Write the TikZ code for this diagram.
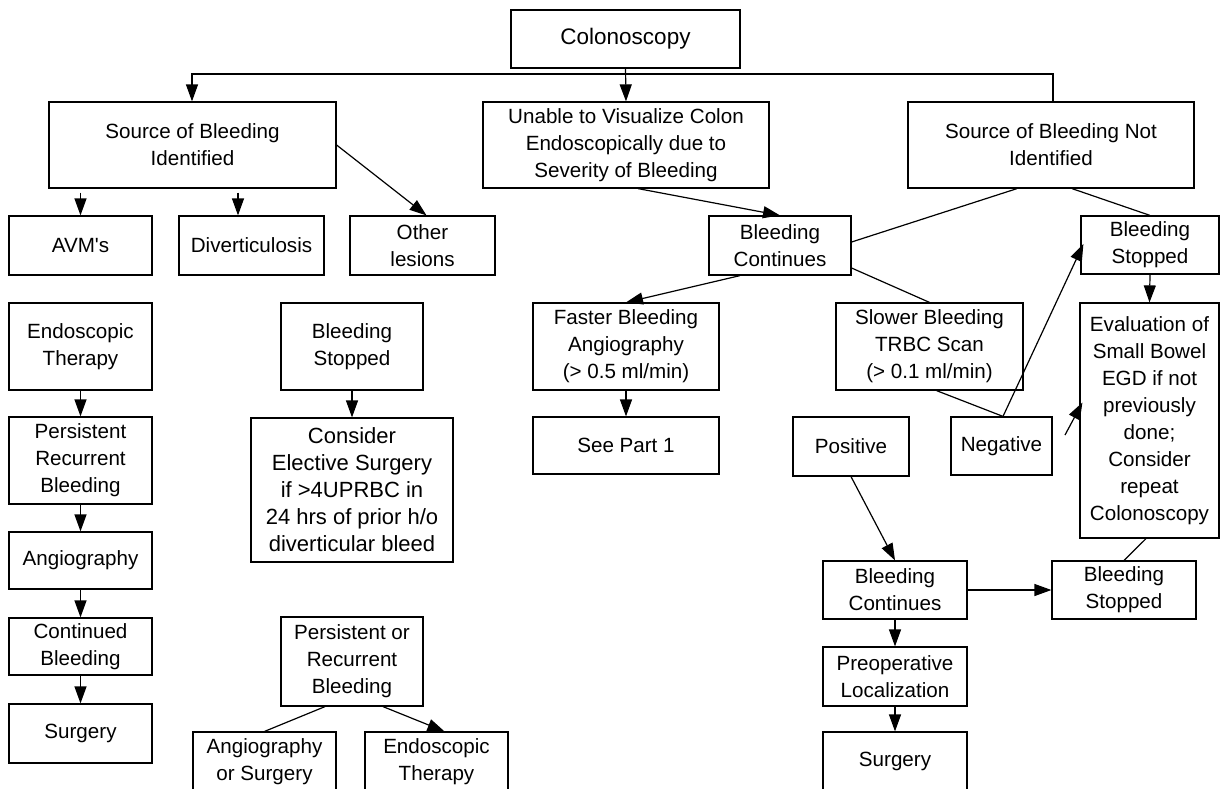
\documentclass[tikz,border=0pt]{standalone}
\usepackage{fontspec}
\setmainfont{Liberation Sans}[Ligatures=TeXOff]
\usetikzlibrary{arrows.meta}
\newcommand{\fsn}{\fontsize{20.6}{27}\selectfont}
\newcommand{\fsb}{\fontsize{22.5}{27}\selectfont}
\tikzset{
  box/.style={draw, line width=1.2pt, inner sep=0pt, align=center, font=\fsn},
  wh/.style 2 args={minimum width=#1, minimum height=#2},
  conn/.style={line width=1.2pt},
  arr/.style={line width=1.2pt, -{Triangle[length=17pt,width=12pt]}}
}
\begin{document}
\begin{tikzpicture}[x=1pt,y=-1pt]
\useasboundingbox (0,0) rectangle (1220,788);
\clip (0,0) rectangle (1220,788);
\fill[white] (0,0) rectangle (1220,788);

% top level
\node[box, wh={229}{58}, font=\fsb] (colon) at (625.5,39) {Colonoscopy};
\node[box, wh={287}{86}] (sid) at (192.5,145) {Source of Bleeding\\Identified};
\node[box, wh={286}{86}] (unable) at (626,145) {Unable to Visualize Colon\\Endoscopically due to\\Severity of Bleeding};
\node[box, wh={286}{86}] (snid) at (1051,145) {Source of Bleeding Not\\Identified};

% second row
\node[box, wh={143}{59}] (avm) at (80.5,245.5) {AVM's};
\node[box, wh={145}{59}] (div) at (251.5,245.5) {\raisebox{-3pt}{Diverticulosis}};
\node[box, wh={145}{59}] (other) at (422.5,245.5) {Other\\lesions};
\node[box, wh={142}{59}] (bc) at (780,245.5) {Bleeding\\Continues};
\node[box, wh={138}{58}] (bs) at (1150,245) {Bleeding\\Stopped};

% left column
\node[box, wh={143}{87}] (ent) at (80.5,346.5) {Endoscopic\\Therapy};
\node[box, wh={143}{87}] (prb) at (80.5,460.5) {Persistent\\Recurrent\\Bleeding};
\node[box, wh={143}{57}] (angio) at (80.5,560.5) {Angiography};
\node[box, wh={143}{57}] (contb) at (80.5,646.5) {Continued\\Bleeding};
\node[box, wh={143}{59}] (surgL) at (80.5,733.5) {Surgery};

% diverticulosis column
\node[box, wh={142}{87}] (bsL) at (352,346.5) {Bleeding\\Stopped};
\node[box, wh={202}{144}, font=\fontsize{22}{27}\selectfont] (consider) at (352,490) {Consider\\Elective Surgery\\if >4UPRBC in\\24 hrs of prior h/o\\diverticular bleed};
\node[box, wh={142}{89}] (porb) at (352,661.5) {Persistent or\\Recurrent\\Bleeding};
\node[box, wh={143}{59}] (aos) at (264.5,761.5) {Angiography\\or Surgery};
\node[box, wh={143}{59}] (etB) at (436.5,761.5) {Endoscopic\\Therapy};

% middle
\node[box, wh={186}{87}] (faster) at (626,346.5) {Faster Bleeding\\Angiography\\(> 0.5 ml/min)};
\node[box, wh={186}{57}] (part1) at (626,445.5) {See Part 1};
\node[box, wh={187}{87}] (slower) at (929.5,346.5) {Slower Bleeding\\TRBC Scan\\(> 0.1 ml/min)};

% right
\node[box, wh={139}{235}] (eval) at (1149.5,420.5) {Evaluation of\\Small Bowel\\EGD if not\\previously\\done;\\Consider\\repeat\\Colonoscopy};
\node[box, wh={116}{59}] (pos) at (851,446.5) {Positive};
\node[box, wh={101}{58}] (neg) at (1001.5,446) {Negative};
\node[box, wh={144}{58}] (bc2) at (895,590) {Bleeding\\Continues};
\node[box, wh={144}{58}] (bs2) at (1124,590) {Bleeding\\Stopped};
\node[box, wh={144}{59}] (preop) at (895,676.5) {Preoperative\\Localization};
\node[box, wh={144}{58}] (surgR) at (895,761) {Surgery};

% connectors
\coordinate (h1) at (192,74);
\coordinate (h2) at (1053,74);
\draw[arr] (snid.north -| h2) -- (h2) -- (h1) -- (sid.north -| h1);
\draw[arr] (colon.south) -- (unable.north);

\draw[arr] ([yshift=-4pt]sid.south -| avm.north) -- (avm.north);
\draw[arr] ([yshift=-4pt]sid.south -| 238,0) -- (div.north -| 238,0);
\draw[arr] (sid.east) -- ([xshift=4pt]other.north);

\draw[arr] ([xshift=12pt]unable.south) -- (bc.north);
\draw[conn] ([xshift=-34pt]snid.south) -- ([yshift=3.5pt]bc.east);
\draw[conn] ([xshift=21pt]snid.south) -- (bs.north);
\draw[arr] ([xshift=-40pt]bc.south) -- (faster.north);
\draw[conn] ([yshift=-22.5pt]bc.east) -- (slower.north);
\draw[arr] (bs.south) -- (eval.north);

\draw[arr] (ent) -- (prb);
\draw[arr] (prb) -- (angio);
\draw[arr] (angio) -- (contb);
\draw[arr] (contb) -- (surgL);

\draw[arr] (bsL) -- (consider);
\draw[conn] ([xshift=-27pt]porb.south) -- (aos.north);
\draw[arr] ([xshift=31pt]porb.south) -- ([xshift=8pt]etB.north);

\draw[arr] (faster) -- (part1);

\draw[conn] ([xshift=7pt]slower.south) -- ([xshift=1.5pt]neg.north);
\draw[arr] ([xshift=1.5pt]neg.north) -- ([xshift=3pt,yshift=1pt]bs.west);
\coordinate (s1) at (1065,435);
\draw[arr] (s1) -- ([xshift=3pt,yshift=18pt]eval.west);

\draw[arr] (pos.south) -- (bc2.north);
\draw[conn] ([xshift=-3.5pt]eval.south) -- (bs2.north);
\draw[arr] (bc2.east) -- (bs2.west);
\draw[arr] (bc2) -- (preop);
\draw[arr] (preop) -- (surgR);
\end{tikzpicture}
\end{document}
